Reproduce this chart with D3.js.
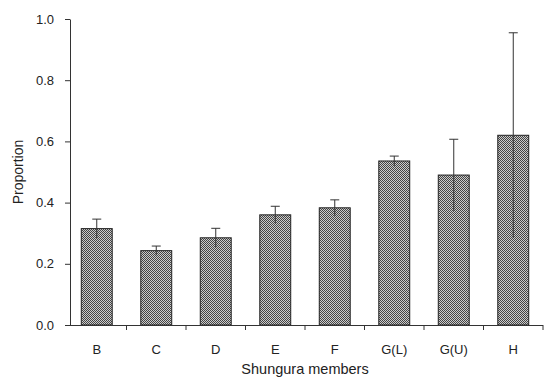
<!DOCTYPE html>
<html>
<head>
<meta charset="utf-8">
<script src="https://cdn.jsdelivr.net/npm/d3@7"></script>
<style>
    body { margin: 0; background: #fff; }
    text { font-family: "Liberation Sans", Arial, sans-serif; fill: #222; }
</style>
</head>
<body>
<svg id="chart"></svg>
<script>
'use strict';

/*
    Data
*/

const MEMBERS     = ['B', 'C', 'D', 'E', 'F', 'G(L)', 'G(U)', 'H'];
const PROPORTIONS = [0.315, 0.243, 0.285, 0.360, 0.383, 0.536, 0.490, 0.620];
const ERRORS      = [0.031, 0.015, 0.031, 0.028, 0.026, 0.016, 0.117, 0.335];
const Y_TICKS     = [0, 0.2, 0.4, 0.6, 0.8, 1.0];

/*
    Constants
*/

const WIDTH  = 546;
const HEIGHT = 377;

const MARGINS = Object.freeze({ TOP: 19, RIGHT: 3, BOTTOM: 52, LEFT: 67 });

const CHART = d3.select('#chart')
                .attr('width', WIDTH)
                .attr('height', HEIGHT);

const x = d3.scaleBand()
            .domain(MEMBERS)
            .range([MARGINS.LEFT, WIDTH - MARGINS.RIGHT])
            .paddingInner(0.48)
            .paddingOuter(0.24);

const y = d3.scaleLinear()
            .domain([0, 1])
            .range([HEIGHT - MARGINS.BOTTOM, MARGINS.TOP]);

// Fine checker fill like the printed hatching
const pattern = CHART.append('defs').append('pattern')
    .attr('id', 'hatch')
    .attr('width', 2).attr('height', 2)
    .attr('patternUnits', 'userSpaceOnUse');
pattern.append('rect').attr('width', 2).attr('height', 2).attr('fill', '#cccccc');
pattern.append('rect').attr('width', 1).attr('height', 1).attr('fill', '#444');
pattern.append('rect').attr('x', 1).attr('y', 1).attr('width', 1).attr('height', 1).attr('fill', '#444');

const data = MEMBERS.map((m, i) => ({ member: m, value: PROPORTIONS[i], err: ERRORS[i] }));

/*
    Bars
*/

CHART.append('g').selectAll('rect')
    .data(data)
    .join('rect')
    .attr('x', d => x(d.member))
    .attr('y', d => y(d.value))
    .attr('width', x.bandwidth())
    .attr('height', d => y(0) - y(d.value))
    .attr('fill', 'url(#hatch)')
    .attr('stroke', '#222')
    .attr('stroke-width', 1);

// Error bars, cap on the top end only
const errs = CHART.append('g').attr('stroke', '#333').attr('stroke-width', 1);
errs.selectAll('line.stem')
    .data(data)
    .join('line')
    .attr('class', 'stem')
    .attr('x1', d => x(d.member) + x.bandwidth() / 2)
    .attr('x2', d => x(d.member) + x.bandwidth() / 2)
    .attr('y1', d => y(d.value - d.err))
    .attr('y2', d => y(d.value + d.err));
errs.selectAll('line.cap')
    .data(data)
    .join('line')
    .attr('class', 'cap')
    .attr('x1', d => x(d.member) + x.bandwidth() / 2 - 4.5)
    .attr('x2', d => x(d.member) + x.bandwidth() / 2 + 4.5)
    .attr('y1', d => y(d.value + d.err))
    .attr('y2', d => y(d.value + d.err));

/*
    Axes
*/

const yAxis = CHART.append('g')
    .attr('transform', `translate(${MARGINS.LEFT + 3},0)`)
    .call(d3.axisLeft(y).tickValues(Y_TICKS).tickFormat(d3.format('.1f'))
        .tickSize(5).tickPadding(3).tickSizeOuter(0));
yAxis.selectAll('text').attr('font-size', 13).attr('dx', -8);

const xAxis = CHART.append('g')
    .attr('transform', `translate(0,${y(0)})`)
    .call(d3.axisBottom(x).tickSize(0).tickSizeOuter(0));
xAxis.select('.domain').attr('d', `M${MARGINS.LEFT},0.5H${WIDTH - MARGINS.RIGHT}`);
xAxis.selectAll('text').attr('font-size', 13).attr('dy', '2em');

// Ticks between the bands
const bounds = MEMBERS.slice(1).map(m => x(m) - x.step() * x.paddingInner() / 2);
bounds.push(WIDTH - MARGINS.RIGHT);
xAxis.selectAll('line.sep')
    .data(bounds)
    .join('line')
    .attr('class', 'sep')
    .attr('x1', d => d).attr('x2', d => d)
    .attr('y1', 0).attr('y2', 5)
    .attr('stroke', '#333');

CHART.selectAll('.domain').attr('stroke', '#333');
CHART.selectAll('.tick line').attr('stroke', '#333');

CHART.append('text')
    .attr('transform', `translate(23,${(y(0) + y(1)) / 2}) rotate(-90)`)
    .attr('text-anchor', 'middle')
    .attr('font-size', 14)
    .text('Proportion');

CHART.append('text')
    .attr('x', (MARGINS.LEFT + WIDTH - MARGINS.RIGHT) / 2)
    .attr('y', 374)
    .attr('text-anchor', 'middle')
    .attr('font-size', 14.5)
    .text('Shungura members');
</script>
</body>
</html>
